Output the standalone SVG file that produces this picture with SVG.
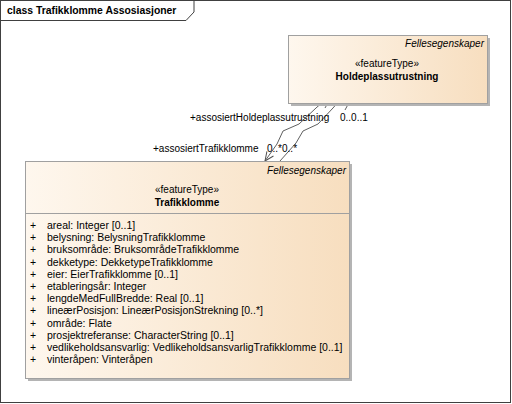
<svg xmlns="http://www.w3.org/2000/svg" width="512" height="404" viewBox="0 0 512 404">
<defs>
<linearGradient id="g" x1="0" y1="0" x2="1" y2="0">
<stop offset="0" stop-color="#FEF7EE"/>
<stop offset="1" stop-color="#F7DEBF"/>
</linearGradient>
<marker id="arr" markerWidth="12" markerHeight="12" refX="10" refY="5" orient="auto" markerUnits="userSpaceOnUse">
<path d="M1,1 L10,5 L1,9" fill="none" stroke="#505050" stroke-width="1"/>
</marker>
<style>
text{font-family:"Liberation Sans",Arial,sans-serif;font-size:10px;fill:#000}
.b{font-weight:bold}
.i{font-style:italic}
.m{text-anchor:middle}
.e{text-anchor:end}
.a text{font-size:10.5px}
.box{fill:url(#g);stroke:#A0A0A0;stroke-width:1}
.sh{fill:#B4B4B4}
.ln{fill:none;stroke:#606060;stroke-width:1}
</style>
</defs>
<rect x="0.5" y="0.5" width="510" height="402" fill="#fff" stroke="#404040"/>
<path d="M0.5,20.5 H186 L194,12 V0.5" fill="none" stroke="#404040"/>
<text class="b" x="7" y="14" style="font-size:10.4px">class Trafikklomme Assosiasjoner</text>

<g id="connectors">
<polyline class="ln" points="325,108 327,104.5 320,104.5 316,108 299,124 283,131 277,144 265,161" marker-end="url(#arr)"/>
<polyline class="ln" points="345,110 348,104.5 336,104.5 333,108 318,124 303,131 296,143 280,161"/>
<text x="190" y="121">+assosiertHoldeplassutrustning</text>
<text x="340" y="121">0..0..1</text>
<text x="153" y="152">+assosiertTrafikklomme</text>
<text x="267" y="152">0..*0..*</text>
</g>

<g id="Holdeplassutrustning">
<rect class="sh" x="291" y="38" width="199" height="68"/>
<rect class="box" x="288.5" y="35.5" width="199" height="68"/>
<text class="i e" x="484" y="47">Fellesegenskaper</text>
<text class="m" x="387" y="67">«featureType»</text>
<text class="b m" x="387" y="80">Holdeplassutrustning</text>
</g>

<g id="Trafikklomme">
<rect class="sh" x="28" y="164" width="324" height="217"/>
<rect class="box" x="25.5" y="161.5" width="324" height="217"/>
<line x1="25.5" y1="213.5" x2="349.5" y2="213.5" stroke="#A0A0A0"/>
<text class="i e" x="346" y="174">Fellesegenskaper</text>
<text class="m" x="187" y="193">«featureType»</text>
<text class="b m" x="187" y="206">Trafikklomme</text>
<g class="a">
<text x="30" y="229">+</text><text x="47" y="229">areal: Integer [0..1]</text>
<text x="30" y="241.2">+</text><text x="47" y="241.2">belysning: BelysningTrafikklomme</text>
<text x="30" y="253.4">+</text><text x="47" y="253.4">bruksområde: BruksområdeTrafikklomme</text>
<text x="30" y="265.6">+</text><text x="47" y="265.6">dekketype: DekketypeTrafikklomme</text>
<text x="30" y="277.8">+</text><text x="47" y="277.8">eier: EierTrafikklomme [0..1]</text>
<text x="30" y="290">+</text><text x="47" y="290">etableringsår: Integer</text>
<text x="30" y="302.2">+</text><text x="47" y="302.2">lengdeMedFullBredde: Real [0..1]</text>
<text x="30" y="314.4">+</text><text x="47" y="314.4">lineærPosisjon: LineærPosisjonStrekning [0..*]</text>
<text x="30" y="326.6">+</text><text x="47" y="326.6">område: Flate</text>
<text x="30" y="338.8">+</text><text x="47" y="338.8">prosjektreferanse: CharacterString [0..1]</text>
<text x="30" y="351">+</text><text x="47" y="351">vedlikeholdsansvarlig: VedlikeholdsansvarligTrafikklomme [0..1]</text>
<text x="30" y="363.2">+</text><text x="47" y="363.2">vinteråpen: Vinteråpen</text>
</g>
</g>
</svg>
